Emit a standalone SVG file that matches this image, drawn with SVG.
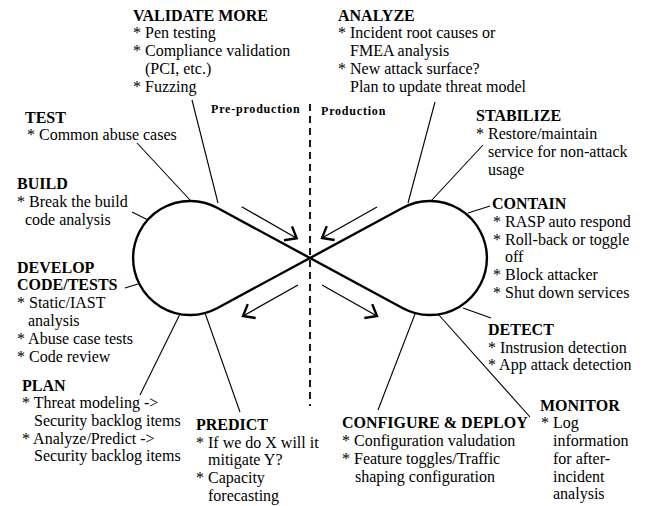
<svg xmlns="http://www.w3.org/2000/svg" width="648" height="506" viewBox="0 0 648 506">
<style>
text{font-family:"Liberation Serif","Times New Roman",serif;font-size:16px;fill:#000}
.t{font-weight:bold}
.s{font-weight:bold;font-size:12px;letter-spacing:0.8px}
.lead{stroke:#000;stroke-width:1.1;fill:none}
.arr{stroke:#000;stroke-width:1.3;fill:none;marker-end:url(#ah)}
.loop{stroke:#000;stroke-width:2.4;fill:none}
</style>
<defs>
<marker id="ah" markerUnits="userSpaceOnUse" viewBox="-12 -10 14 20" refX="0" refY="0" markerWidth="14" markerHeight="20" orient="auto">
<path d="M-10,-8 L0,0 L-10,8" fill="none" stroke="#000" stroke-width="2.4"/>
</marker>
</defs>
<rect width="648" height="506" fill="#fff"/>
<g id="loop">
<path class="loop" d="M217.1,207.8 L402.9,308.2 A57,57 0 1,0 402.9,207.8 L217.1,308.2 A57,57 0 1,1 217.1,207.8 Z"/>
<line x1="310" y1="104" x2="310" y2="406" stroke="#000" stroke-width="1.8" stroke-dasharray="7,5"/>
<text class="s" x="211" y="113">Pre-production</text>
<text class="s" x="321" y="115">Production</text>
</g>
<g id="connectors">
<line class="arr" x1="241.7" y1="206.7" x2="296.7" y2="238.3"/>
<line class="arr" x1="377" y1="207" x2="322" y2="238"/>
<line class="arr" x1="298" y1="285" x2="243" y2="316"/>
<line class="arr" x1="322" y1="285" x2="377" y2="316"/>
<line class="lead" x1="192" y1="100" x2="218" y2="203"/>
<line class="lead" x1="137" y1="143" x2="190" y2="200"/>
<line class="lead" x1="132" y1="212" x2="148" y2="220"/>
<line class="lead" x1="125" y1="288" x2="138" y2="284"/>
<line class="lead" x1="180" y1="314" x2="140" y2="395"/>
<line class="lead" x1="205" y1="313" x2="240" y2="412"/>
<line class="lead" x1="435" y1="102" x2="408" y2="203"/>
<line class="lead" x1="483" y1="145" x2="431" y2="201"/>
<line class="lead" x1="468" y1="213" x2="490" y2="206"/>
<line class="lead" x1="463" y1="308" x2="491" y2="318"/>
<line class="lead" x1="415" y1="314" x2="378" y2="410"/>
<line class="lead" x1="438" y1="314" x2="530" y2="417"/>
</g>
<g id="validate-more">
<text class="t" x="133" y="21">VALIDATE MORE</text>
<text x="133" y="38">* Pen testing</text>
<text x="133" y="56">* Compliance validation</text>
<text x="145" y="74">(PCI, etc.)</text>
<text x="133" y="92">* Fuzzing</text>
</g>
<g id="test">
<text class="t" x="25" y="123">TEST</text>
<text x="27" y="140">* Common abuse cases</text>
</g>
<g id="build">
<text class="t" x="17" y="189">BUILD</text>
<text x="17" y="207">* Break the build</text>
<text x="25" y="225">code analysis</text>
</g>
<g id="develop">
<text class="t" x="17" y="273">DEVELOP</text>
<text class="t" x="17" y="290">CODE/TESTS</text>
<text x="17" y="308">* Static/IAST</text>
<text x="28" y="326">analysis</text>
<text x="17" y="344">* Abuse case tests</text>
<text x="17" y="362">* Code review</text>
</g>
<g id="plan">
<text class="t" x="22" y="391">PLAN</text>
<text x="22" y="408">* Threat modeling -&gt;</text>
<text x="34" y="426">Security backlog items</text>
<text x="22" y="444">* Analyze/Predict -&gt;</text>
<text x="34" y="461">Security backlog items</text>
</g>
<g id="predict">
<text class="t" x="196" y="430">PREDICT</text>
<text x="196" y="448">* If we do X will it</text>
<text x="208" y="465">mitigate Y?</text>
<text x="196" y="483">* Capacity</text>
<text x="208" y="501">forecasting</text>
</g>
<g id="analyze">
<text class="t" x="338" y="21">ANALYZE</text>
<text x="338" y="38">* Incident root causes or</text>
<text x="350" y="56">FMEA analysis</text>
<text x="338" y="74">* New attack surface?</text>
<text x="350" y="92">Plan to update threat model</text>
</g>
<g id="stabilize">
<text class="t" x="476" y="121">STABILIZE</text>
<text x="476" y="139">* Restore/maintain</text>
<text x="488" y="157">service for non-attack</text>
<text x="488" y="175">usage</text>
</g>
<g id="contain">
<text class="t" x="492" y="209">CONTAIN</text>
<text x="493" y="227">* RASP auto respond</text>
<text x="493" y="245">* Roll-back or toggle</text>
<text x="505" y="262">off</text>
<text x="493" y="280">* Block attacker</text>
<text x="493" y="298">* Shut down services</text>
</g>
<g id="detect">
<text class="t" x="488" y="335">DETECT</text>
<text x="488" y="353">* Instrusion detection</text>
<text x="488" y="370">* App attack detection</text>
</g>
<g id="monitor">
<text class="t" x="540" y="411">MONITOR</text>
<text x="541" y="428">* Log</text>
<text x="553" y="446">information</text>
<text x="553" y="464">for after-</text>
<text x="553" y="482">incident</text>
<text x="553" y="499">analysis</text>
</g>
<g id="configure-deploy">
<text class="t" x="342" y="428">CONFIGURE &amp; DEPLOY</text>
<text x="342" y="446">* Configuration valudation</text>
<text x="342" y="464">* Feature toggles/Traffic</text>
<text x="355" y="482">shaping configuration</text>
</g>
</svg>
